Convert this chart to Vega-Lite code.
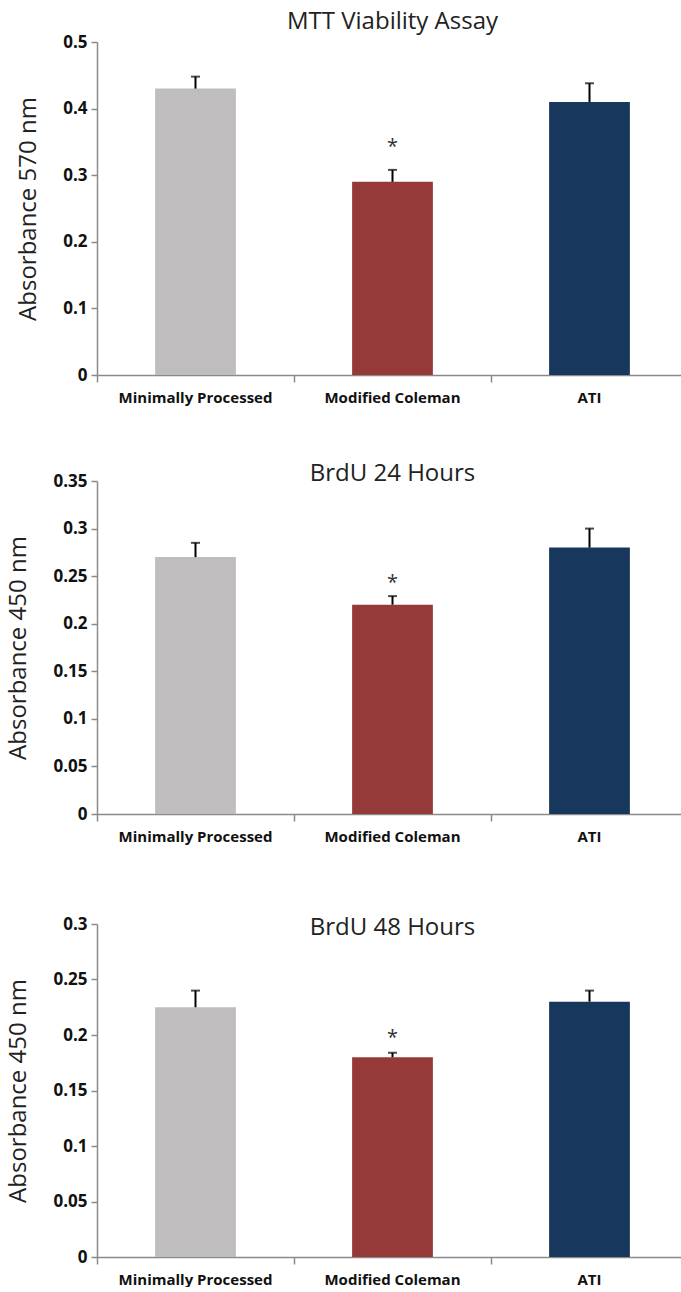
{
  "$schema": "https://vega.github.io/schema/vega-lite/v6.json",
  "padding": {"top": 10, "left": 6, "right": 0, "bottom": 0},
  "background": "white",
  "datasets": {
    "mtt": [
      {"group": "Minimally Processed", "value": 0.43, "upper": 0.448, "sig": "", "star": null},
      {"group": "Modified Coleman", "value": 0.29, "upper": 0.308, "sig": "*", "star": 0.343},
      {"group": "ATI", "value": 0.41, "upper": 0.438, "sig": "", "star": null}
    ],
    "b24": [
      {"group": "Minimally Processed", "value": 0.27, "upper": 0.285, "sig": "", "star": null},
      {"group": "Modified Coleman", "value": 0.22, "upper": 0.229, "sig": "*", "star": 0.243},
      {"group": "ATI", "value": 0.28, "upper": 0.3, "sig": "", "star": null}
    ],
    "b48": [
      {"group": "Minimally Processed", "value": 0.225, "upper": 0.24, "sig": "", "star": null},
      {"group": "Modified Coleman", "value": 0.18, "upper": 0.184, "sig": "*", "star": 0.197},
      {"group": "ATI", "value": 0.23, "upper": 0.24, "sig": "", "star": null}
    ]
  },
  "vconcat": [
    {
      "vconcat": [
        {
          "data": {"name": "mtt"},
          "width": 591, "height": 333,
          "title": {"text": "MTT Viability Assay", "offset": -1},
          "encoding": {
            "x": {"field": "group", "type": "nominal", "sort": ["Minimally Processed", "Modified Coleman", "ATI"], "title": null,
                  "scale": {"paddingInner": 0, "paddingOuter": 0}}
          },
          "layer": [
            {"mark": {"type": "bar", "width": {"band": 0.41}},
             "encoding": {
               "y": {"field": "value", "type": "quantitative", "title": "Absorbance 570 nm", "scale": {"domain": [0, 0.5]},
                     "axis": {"values": [0, 0.1, 0.2, 0.3, 0.4, 0.5], "format": ".1~f"}},
               "color": {"field": "group", "type": "nominal", "legend": null,
                         "scale": {"domain": ["Minimally Processed", "Modified Coleman", "ATI"], "range": ["#BFBDBD", "#963939", "#18375C"]}}
             }},
            {"mark": {"type": "rule", "strokeWidth": 2, "color": "black"},
             "encoding": {"y": {"field": "value", "type": "quantitative", "title": "Absorbance 570 nm"}, "y2": {"field": "upper"}}},
            {"mark": {"type": "tick", "size": 9, "thickness": 2, "color": "black"},
             "encoding": {"y": {"field": "upper", "type": "quantitative", "title": "Absorbance 570 nm"}}},
            {"transform": [{"filter": "datum.sig === '*'"}],
             "mark": {"type": "text", "fontSize": 20, "color": "#333", "font": "Open Sans", "baseline": "middle"},
             "encoding": {"y": {"field": "star", "type": "quantitative", "title": "Absorbance 570 nm"}, "text": {"field": "sig"}}}
          ]
        },
        {
          "data": {"name": "b24"},
          "width": 591, "height": 333,
          "title": {"text": "BrdU 24 Hours", "offset": -14},
          "encoding": {
            "x": {"field": "group", "type": "nominal", "sort": ["Minimally Processed", "Modified Coleman", "ATI"], "title": null,
                  "scale": {"paddingInner": 0, "paddingOuter": 0}}
          },
          "layer": [
            {"mark": {"type": "bar", "width": {"band": 0.41}},
             "encoding": {
               "y": {"field": "value", "type": "quantitative", "title": "Absorbance 450 nm", "scale": {"domain": [0, 0.35]},
                     "axis": {"values": [0, 0.05, 0.1, 0.15, 0.2, 0.25, 0.3, 0.35], "format": ".2~f"}},
               "color": {"field": "group", "type": "nominal", "legend": null,
                         "scale": {"domain": ["Minimally Processed", "Modified Coleman", "ATI"], "range": ["#BFBDBD", "#963939", "#18375C"]}}
             }},
            {"mark": {"type": "rule", "strokeWidth": 2, "color": "black"},
             "encoding": {"y": {"field": "value", "type": "quantitative", "title": "Absorbance 450 nm"}, "y2": {"field": "upper"}}},
            {"mark": {"type": "tick", "size": 9, "thickness": 2, "color": "black"},
             "encoding": {"y": {"field": "upper", "type": "quantitative", "title": "Absorbance 450 nm"}}},
            {"transform": [{"filter": "datum.sig === '*'"}],
             "mark": {"type": "text", "fontSize": 20, "color": "#333", "font": "Open Sans", "baseline": "middle"},
             "encoding": {"y": {"field": "star", "type": "quantitative", "title": "Absorbance 450 nm"}, "text": {"field": "sig"}}}
          ]
        }
      ],
      "spacing": 57,
      "align": "none",
      "bounds": "full"
    },
    {
      "data": {"name": "b48"},
      "width": 591, "height": 333,
      "title": {"text": "BrdU 48 Hours", "offset": -25},
      "encoding": {
        "x": {"field": "group", "type": "nominal", "sort": ["Minimally Processed", "Modified Coleman", "ATI"], "title": null,
              "scale": {"paddingInner": 0, "paddingOuter": 0}}
      },
      "layer": [
        {"mark": {"type": "bar", "width": {"band": 0.41}},
         "encoding": {
           "y": {"field": "value", "type": "quantitative", "title": "Absorbance 450 nm", "scale": {"domain": [0, 0.3]},
                 "axis": {"values": [0, 0.05, 0.1, 0.15, 0.2, 0.25, 0.3], "format": ".2~f"}},
           "color": {"field": "group", "type": "nominal", "legend": null,
                     "scale": {"domain": ["Minimally Processed", "Modified Coleman", "ATI"], "range": ["#BFBDBD", "#963939", "#18375C"]}}
         }},
        {"mark": {"type": "rule", "strokeWidth": 2, "color": "black"},
         "encoding": {"y": {"field": "value", "type": "quantitative", "title": "Absorbance 450 nm"}, "y2": {"field": "upper"}}},
        {"mark": {"type": "tick", "size": 9, "thickness": 2, "color": "black"},
         "encoding": {"y": {"field": "upper", "type": "quantitative", "title": "Absorbance 450 nm"}}},
        {"transform": [{"filter": "datum.sig === '*'"}],
         "mark": {"type": "text", "fontSize": 20, "color": "#333", "font": "Open Sans", "baseline": "middle"},
         "encoding": {"y": {"field": "star", "type": "quantitative", "title": "Absorbance 450 nm"}, "text": {"field": "sig"}}}
      ]
    }
  ],
  "spacing": 71,
  "align": "none",
  "bounds": "full",
  "config": {
    "view": {"stroke": null},
    "title": {"font": "Open Sans", "fontSize": 24, "fontWeight": "normal", "color": "#222", "anchor": "middle", "frame": "group"},
    "axis": {"grid": false},
    "axisY": {"domainColor": "#8a8a8a", "domainWidth": 1.5, "tickColor": "#8a8a8a", "tickWidth": 1.5, "tickSize": 6,
              "labelFont": "Open Sans", "labelFontWeight": "bold", "labelFontSize": 17, "labelColor": "#111", "labelPadding": 4,
              "titleFont": "Open Sans", "titleFontWeight": "normal", "titleFontSize": 24, "titleColor": "#222", "titlePadding": 22},
    "axisX": {"domainColor": "#8a8a8a", "domainWidth": 1.5, "tickColor": "#8a8a8a", "tickWidth": 1.5, "tickSize": 7,
              "bandPosition": 0, "labelAngle": 0, "labelPadding": 8,
              "labelFont": "Open Sans", "labelFontWeight": "bold", "labelFontSize": 15, "labelColor": "#111"}
  }
}
